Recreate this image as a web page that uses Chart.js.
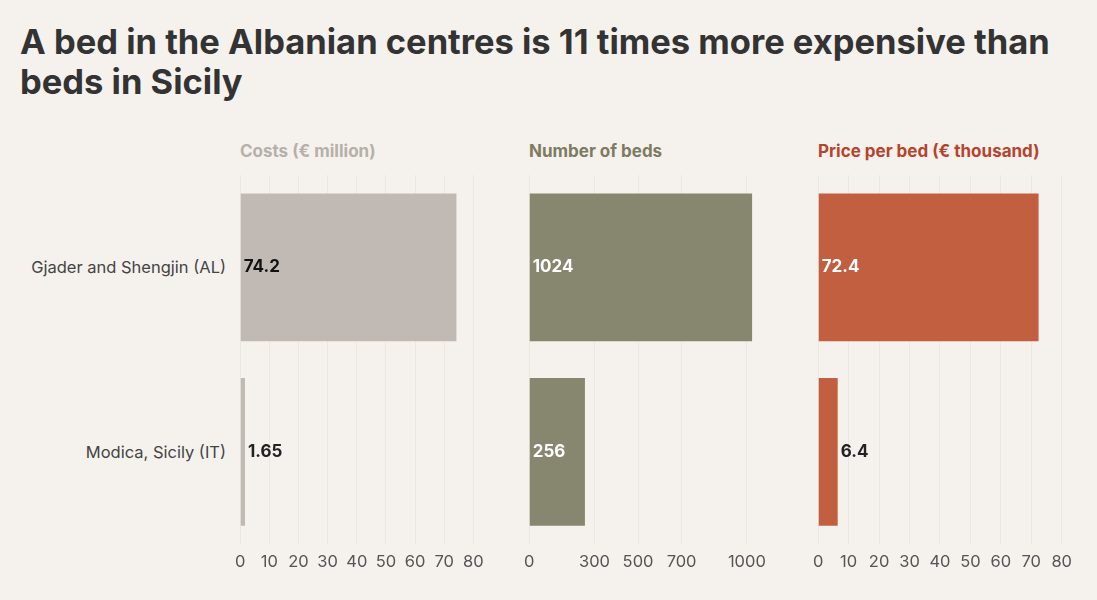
<!DOCTYPE html>
<html><head><meta charset="utf-8">
<script src="https://cdn.jsdelivr.net/npm/chart.js@4"></script>
<style>
body{margin:0;background:#f5f2ed;font-family:Inter,sans-serif;}
h1{position:absolute;left:20px;top:22px;margin:0;font-size:34.5px;line-height:40px;color:#333;font-weight:700;width:1070px;}
.hd{position:absolute;top:141px;font-size:17px;font-weight:700;}
.c{position:absolute;top:170px;height:410px;}
.cat{position:absolute;right:871px;font-size:16.5px;color:#444;white-space:nowrap;transform:translateY(-50%);}
</style></head><body>
<h1>A bed in the Albanian centres is 11 times more expensive than beds in Sicily</h1>
<div class="hd" style="left:240px;color:#b5b0aa">Costs (€ million)</div>
<div class="hd" style="left:529px;color:#7d7b62">Number of beds</div>
<div class="hd" style="left:818px;color:#b5432e">Price per bed (€ thousand)</div>
<div id="cats"></div>
<div class="c" style="left:227px;width:270px"><canvas id="c1"></canvas></div>
<div class="c" style="left:516px;width:269px"><canvas id="c2"></canvas></div>
<div class="c" style="left:805px;width:275px"><canvas id="c3"></canvas></div>
<script>
var categories = ['Gjader and Shengjin (AL)', 'Modica, Sicily (IT)'];
var costs = [74.2, 1.65];
var beds = [1024, 256];
var pricePerBed = [72.4, 6.4];
var costTicks = [0, 10, 20, 30, 40, 50, 60, 70, 80];
var bedTicks = [0, 300, 500, 700, 1000];
var priceTicks = [0, 10, 20, 30, 40, 50, 60, 70, 80];

var labelPlugin = {
  id: 'vals',
  afterDatasetsDraw: function (chart) {
    var ctx = chart.ctx, meta = chart.getDatasetMeta(0), o = chart.config.options.plugins.vals;
    ctx.save();
    ctx.font = 'bold 17px Inter';
    ctx.textBaseline = 'middle';
    meta.data.forEach(function (bar, i) {
      var txt = String(chart.data.datasets[0].data[i]);
      var w = ctx.measureText(txt).width, inside = bar.x - bar.base > w + 8;
      ctx.fillStyle = inside ? o.inColor : '#222';
      ctx.fillText(txt, inside ? bar.base + 3 : bar.x + 3, bar.y);
    });
    ctx.restore();
    if (o.cats) {
      var html = '';
      meta.data.forEach(function (bar, i) {
        html += '<div class="cat" style="top:' + (170 + bar.y) + 'px">' + categories[i] + '</div>';
      });
      document.getElementById('cats').innerHTML = html;
    }
  }
};

function make(id, data, color, max, ticks, inColor, cats) {
  new Chart(document.getElementById(id), {
    type: 'bar',
    data: { labels: categories, datasets: [{ data: data, backgroundColor: color, barPercentage: 0.8, categoryPercentage: 1 }] },
    options: {
      indexAxis: 'y', responsive: true, maintainAspectRatio: false, animation: false,
      layout: { padding: { top: 5, right: 12, bottom: 0 } },
      plugins: { legend: { display: false }, tooltip: { enabled: false }, vals: { inColor: inColor, cats: cats } },
      scales: {
        x: {
          min: 0, max: max,
          afterBuildTicks: function (s) { s.ticks = ticks.map(function (v) { return { value: v }; }); },
          grid: { color: '#ebe7e1', drawTicks: false },
          border: { display: false },
          ticks: { color: '#555', font: { family: 'Inter', size: 16.5 }, padding: 8, callback: function (v) { return String(v); } }
        },
        y: { display: false }
      }
    },
    plugins: [labelPlugin]
  });
}
make('c1', costs, '#c1bab4', 84, costTicks, '#111', true);
make('c2', beds, '#87866e', 1120, bedTicks, '#fff', false);
make('c3', pricePerBed, '#c25f41', 82, priceTicks, '#fff', false);
</script>
</body></html>
